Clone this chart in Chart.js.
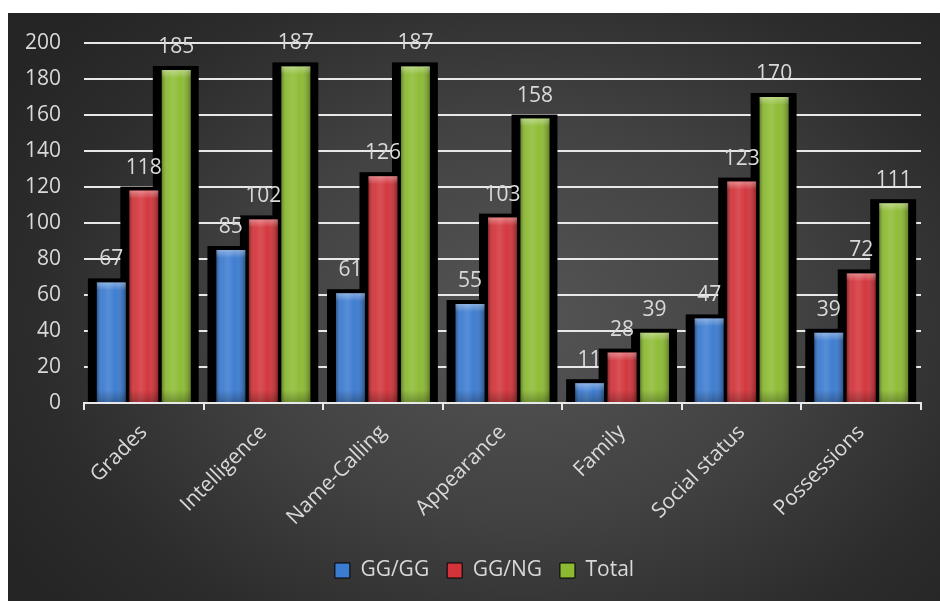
<!DOCTYPE html>
<html>
<head>
<meta charset="utf-8">
<script src="https://cdn.jsdelivr.net/npm/chart.js@4"></script>
<style>
  html, body { margin: 0; padding: 0; background: #ffffff; width: 940px; height: 601px; overflow: hidden; }
  #bg { position: absolute; left: 8px; top: 13px; width: 932px; height: 588px;
        background: radial-gradient(ellipse 65% 75% at 55% 52%, #555555 0%, #424242 45%, #2c2c2c 80%, #252525 100%); }
  #c { position: absolute; left: 0; top: 0; }
</style>
</head>
<body>
<div id="bg"></div>
<canvas id="c" width="940" height="601"></canvas>
<script>
const categories = ['Grades', 'Intelligence', 'Name-Calling', 'Appearance', 'Family', 'Social status', 'Possessions'];
const seriesNames = ['GG/GG', 'GG/NG', 'Total'];
const ggGG = [67, 85, 61, 55, 11, 47, 39];
const ggNG = [118, 102, 126, 103, 28, 123, 72];
const total = [185, 187, 187, 158, 39, 170, 111];
const yMin = 0, yMax = 200, yStep = 20;

const colors = ['#3b7bd0', '#d2343a', '#8cbb33'];
const textColor = '#d9d9d9';
const lineColor = '#e8e8e8';
const FONT = '"Open Sans", "Noto Sans", sans-serif';
const FS = 21;

const shadowPlugin = {
  id: 'shadow',
  beforeDatasetsDraw(chart) {
    const ctx = chart.ctx;
    ctx.save();
    ctx.fillStyle = '#000000';
    chart.data.datasets.forEach((ds, di) => {
      const meta = chart.getDatasetMeta(di);
      meta.data.forEach(el => {
        const p = el.getProps(['x', 'y', 'base', 'width'], true);
        ctx.fillRect(p.x - p.width / 2 - 9, p.y - 4, p.width + 17, p.base - p.y + 4);
      });
    });
    ctx.restore();
  }
};

const gloss = {
  id: 'gloss',
  afterDatasetsDraw(chart) {
    const ctx = chart.ctx;
    ctx.save();
    chart.data.datasets.forEach((ds, di) => {
      const meta = chart.getDatasetMeta(di);
      meta.data.forEach((el, i) => {
        const p = el.getProps(['x', 'y', 'base', 'width'], true);
        const l = p.x - p.width / 2, r = p.x + p.width / 2;
        const g = ctx.createLinearGradient(l, 0, r, 0);
        g.addColorStop(0, 'rgba(0,0,0,0.30)');
        g.addColorStop(0.2, 'rgba(255,255,255,0.06)');
        g.addColorStop(0.4, 'rgba(255,255,255,0.14)');
        g.addColorStop(0.65, 'rgba(255,255,255,0.02)');
        g.addColorStop(1, 'rgba(0,0,0,0.30)');
        ctx.fillStyle = g;
        ctx.fillRect(l, p.y, p.width, p.base - p.y);
        const t = ctx.createLinearGradient(0, p.y, 0, p.y + 8);
        t.addColorStop(0, 'rgba(255,255,255,0.35)');
        t.addColorStop(1, 'rgba(255,255,255,0)');
        ctx.fillStyle = t;
        ctx.fillRect(l, p.y, p.width, Math.min(8, p.base - p.y));
        const b = ctx.createLinearGradient(0, p.base - 12, 0, p.base);
        b.addColorStop(0, 'rgba(0,0,0,0)');
        b.addColorStop(1, 'rgba(0,0,0,0.25)');
        ctx.fillStyle = b;
        ctx.fillRect(l, p.base - 12, p.width, 12);
      });
    });
    ctx.restore();
  }
};

const valueLabels = {
  id: 'valueLabels',
  afterDatasetsDraw(chart) {
    const ctx = chart.ctx;
    ctx.save();
    ctx.font = FS + 'px ' + FONT;
    ctx.fillStyle = textColor;
    ctx.textAlign = 'center';
    ctx.textBaseline = 'alphabetic';
    chart.data.datasets.forEach((ds, di) => {
      const meta = chart.getDatasetMeta(di);
      meta.data.forEach((el, i) => {
        const p = el.getProps(['x', 'y'], true);
        ctx.fillText(String(ds.data[i]), p.x, p.y - 17);
      });
    });
    ctx.restore();
  }
};

const legendShift = {
  id: 'legendShift',
  afterLayout(chart) {
    const lg = chart.legend;
    if (lg) { lg.left += 24; lg.right += 24; }
  }
};

new Chart(document.getElementById('c'), {
  type: 'bar',
  data: {
    labels: categories,
    datasets: [
      { label: seriesNames[0], data: ggGG, backgroundColor: colors[0] },
      { label: seriesNames[1], data: ggNG, backgroundColor: colors[1] },
      { label: seriesNames[2], data: total, backgroundColor: colors[2] }
    ]
  },
  options: {
    responsive: false,
    animation: false,
    devicePixelRatio: 1,
    categoryPercentage: 0.815,
    barPercentage: 0.89,
    layout: { padding: { left: 0, right: 19, top: 43, bottom: 10 } },
    plugins: {
      tooltip: { enabled: false },
      legend: {
        position: 'bottom',
        labels: {
          color: textColor,
          font: { family: FONT, size: FS },
          boxWidth: 15,
          boxHeight: 15,
          padding: 18,
          generateLabels(chart) {
            return chart.data.datasets.map((ds, i) => ({
              text: ds.label,
              fillStyle: colors[i],
              strokeStyle: '#000000',
              lineWidth: 1,
              fontColor: textColor,
              datasetIndex: i,
              hidden: false
            }));
          }
        }
      }
    },
    scales: {
      x: {
        grid: { drawOnChartArea: false, drawTicks: true, tickLength: 7, color: lineColor, lineWidth: 2, offset: true },
        border: { display: true, color: lineColor, width: 2 },
        ticks: { color: textColor, font: { family: FONT, size: FS }, minRotation: 45, maxRotation: 45, padding: 10 },
        afterFit(s) { s.height = 139; }
      },
      y: {
        min: yMin, max: yMax,
        ticks: { stepSize: yStep, color: textColor, font: { family: FONT, size: FS }, padding: 23 },
        grid: { color: lineColor, lineWidth: 2, drawTicks: false },
        border: { display: false },
        afterFit(s) { s.width = 84; }
      }
    }
  },
  plugins: [shadowPlugin, gloss, valueLabels, legendShift]
});
</script>
</body>
</html>
